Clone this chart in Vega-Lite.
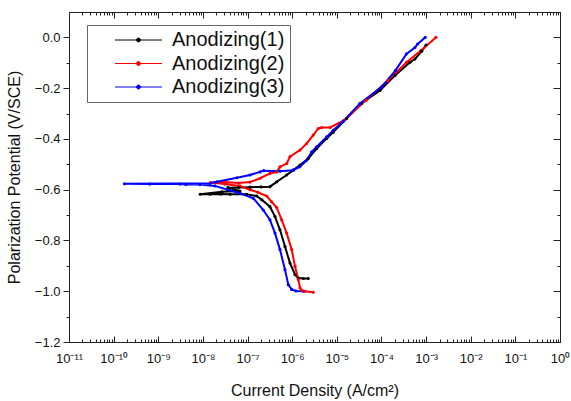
{
  "$schema": "https://vega.github.io/schema/vega-lite/v6.json",
  "width": 491,
  "height": 330,
  "autosize": "none",
  "padding": {"left": 69, "top": 12, "right": 11, "bottom": 59},
  "background": "white",
  "config": {
    "view": {"stroke": "#222", "strokeWidth": 1},
    "font": "Liberation Sans",
    "axis": {"grid": false, "domainColor": "#222", "tickColor": "#222", "labelColor": "#111", "titleColor": "#111", "labelFont": "Liberation Sans", "titleFont": "Liberation Sans", "titleFontWeight": "normal"}
  },
  "data": {
    "values": [
      {"series": "Anodizing(1)", "i": 1, "current": 2.29e-6, "potential": -0.950},
      {"series": "Anodizing(1)", "i": 2, "current": 1.78e-6, "potential": -0.950},
      {"series": "Anodizing(1)", "i": 3, "current": 1.37e-6, "potential": -0.948},
      {"series": "Anodizing(1)", "i": 4, "current": 1.16e-6, "potential": -0.935},
      {"series": "Anodizing(1)", "i": 5, "current": 8.93e-7, "potential": -0.889},
      {"series": "Anodizing(1)", "i": 6, "current": 6.90e-7, "potential": -0.824},
      {"series": "Anodizing(1)", "i": 7, "current": 5.33e-7, "potential": -0.758},
      {"series": "Anodizing(1)", "i": 8, "current": 4.12e-7, "potential": -0.706},
      {"series": "Anodizing(1)", "i": 9, "current": 3.18e-7, "potential": -0.667},
      {"series": "Anodizing(1)", "i": 10, "current": 2.09e-7, "potential": -0.640},
      {"series": "Anodizing(1)", "i": 11, "current": 1.60e-7, "potential": -0.625},
      {"series": "Anodizing(1)", "i": 12, "current": 9.55e-8, "potential": -0.618},
      {"series": "Anodizing(1)", "i": 13, "current": 4.07e-8, "potential": -0.618},
      {"series": "Anodizing(1)", "i": 14, "current": 2.51e-8, "potential": -0.617},
      {"series": "Anodizing(1)", "i": 15, "current": 1.45e-8, "potential": -0.618},
      {"series": "Anodizing(1)", "i": 16, "current": 8.7e-9, "potential": -0.618},
      {"series": "Anodizing(1)", "i": 17, "current": 2.69e-8, "potential": -0.608},
      {"series": "Anodizing(1)", "i": 18, "current": 6.76e-8, "potential": -0.605},
      {"series": "Anodizing(1)", "i": 19, "current": 3.63e-8, "potential": -0.592},
      {"series": "Anodizing(1)", "i": 20, "current": 6.3e-8, "potential": -0.591},
      {"series": "Anodizing(1)", "i": 21, "current": 1.14e-7, "potential": -0.590},
      {"series": "Anodizing(1)", "i": 22, "current": 2.0e-7, "potential": -0.589},
      {"series": "Anodizing(1)", "i": 23, "current": 3.18e-7, "potential": -0.588},
      {"series": "Anodizing(1)", "i": 24, "current": 4.5e-7, "potential": -0.569},
      {"series": "Anodizing(1)", "i": 25, "current": 7.53e-7, "potential": -0.542},
      {"series": "Anodizing(1)", "i": 26, "current": 1.06e-6, "potential": -0.523},
      {"series": "Anodizing(1)", "i": 27, "current": 1.50e-6, "potential": -0.503},
      {"series": "Anodizing(1)", "i": 28, "current": 2.29e-6, "potential": -0.477},
      {"series": "Anodizing(1)", "i": 29, "current": 3.54e-6, "potential": -0.438},
      {"series": "Anodizing(1)", "i": 30, "current": 5.93e-6, "potential": -0.398},
      {"series": "Anodizing(1)", "i": 31, "current": 8.34e-6, "potential": -0.373},
      {"series": "Anodizing(1)", "i": 32, "current": 1.66e-5, "potential": -0.320},
      {"series": "Anodizing(1)", "i": 33, "current": 3.55e-5, "potential": -0.260},
      {"series": "Anodizing(1)", "i": 34, "current": 9.27e-5, "potential": -0.209},
      {"series": "Anodizing(1)", "i": 35, "current": 2.01e-4, "potential": -0.150},
      {"series": "Anodizing(1)", "i": 36, "current": 4.36e-4, "potential": -0.098},
      {"series": "Anodizing(1)", "i": 37, "current": 5.62e-4, "potential": -0.085},
      {"series": "Anodizing(1)", "i": 38, "current": 7.94e-4, "potential": -0.055},
      {"series": "Anodizing(1)", "i": 39, "current": 1.0e-3, "potential": -0.030},

      {"series": "Anodizing(2)", "i": 1, "current": 2.97e-6, "potential": -1.004},
      {"series": "Anodizing(2)", "i": 2, "current": 1.94e-6, "potential": -1.000},
      {"series": "Anodizing(2)", "i": 3, "current": 1.63e-6, "potential": -0.996},
      {"series": "Anodizing(2)", "i": 4, "current": 1.50e-6, "potential": -0.987},
      {"series": "Anodizing(2)", "i": 5, "current": 1.37e-6, "potential": -0.954},
      {"series": "Anodizing(2)", "i": 6, "current": 1.156e-6, "potential": -0.902},
      {"series": "Anodizing(2)", "i": 7, "current": 9.75e-7, "potential": -0.836},
      {"series": "Anodizing(2)", "i": 8, "current": 7.53e-7, "potential": -0.771},
      {"series": "Anodizing(2)", "i": 9, "current": 5.82e-7, "potential": -0.719},
      {"series": "Anodizing(2)", "i": 10, "current": 4.50e-7, "potential": -0.670},
      {"series": "Anodizing(2)", "i": 11, "current": 3.48e-7, "potential": -0.648},
      {"series": "Anodizing(2)", "i": 12, "current": 2.69e-7, "potential": -0.625},
      {"series": "Anodizing(2)", "i": 13, "current": 1.70e-7, "potential": -0.610},
      {"series": "Anodizing(2)", "i": 14, "current": 1.135e-7, "potential": -0.600},
      {"series": "Anodizing(2)", "i": 15, "current": 6.76e-8, "potential": -0.585},
      {"series": "Anodizing(2)", "i": 16, "current": 3.09e-8, "potential": -0.578},
      {"series": "Anodizing(2)", "i": 17, "current": 1.48e-8, "potential": -0.572},
      {"series": "Anodizing(2)", "i": 18, "current": 3.09e-8, "potential": -0.570},
      {"series": "Anodizing(2)", "i": 19, "current": 6.3e-8, "potential": -0.574},
      {"series": "Anodizing(2)", "i": 20, "current": 1.135e-7, "potential": -0.570},
      {"series": "Anodizing(2)", "i": 21, "current": 1.91e-7, "potential": -0.555},
      {"series": "Anodizing(2)", "i": 22, "current": 3.18e-7, "potential": -0.536},
      {"series": "Anodizing(2)", "i": 23, "current": 4.50e-7, "potential": -0.530},
      {"series": "Anodizing(2)", "i": 24, "current": 5.33e-7, "potential": -0.510},
      {"series": "Anodizing(2)", "i": 25, "current": 7.53e-7, "potential": -0.497},
      {"series": "Anodizing(2)", "i": 26, "current": 8.93e-7, "potential": -0.470},
      {"series": "Anodizing(2)", "i": 27, "current": 1.50e-6, "potential": -0.444},
      {"series": "Anodizing(2)", "i": 28, "current": 2.11e-6, "potential": -0.418},
      {"series": "Anodizing(2)", "i": 29, "current": 2.97e-6, "potential": -0.385},
      {"series": "Anodizing(2)", "i": 30, "current": 3.85e-6, "potential": -0.359},
      {"series": "Anodizing(2)", "i": 31, "current": 4.58e-6, "potential": -0.355},
      {"series": "Anodizing(2)", "i": 32, "current": 7.08e-6, "potential": -0.355},
      {"series": "Anodizing(2)", "i": 33, "current": 1.445e-5, "potential": -0.327},
      {"series": "Anodizing(2)", "i": 34, "current": 4.50e-5, "potential": -0.248},
      {"series": "Anodizing(2)", "i": 35, "current": 1.40e-4, "potential": -0.170},
      {"series": "Anodizing(2)", "i": 36, "current": 3.66e-4, "potential": -0.098},
      {"series": "Anodizing(2)", "i": 37, "current": 7.67e-4, "potential": -0.052},
      {"series": "Anodizing(2)", "i": 38, "current": 1.656e-3, "potential": 0.000},

      {"series": "Anodizing(3)", "i": 1, "current": 1.78e-6, "potential": -1.000},
      {"series": "Anodizing(3)", "i": 2, "current": 1.216e-6, "potential": -0.999},
      {"series": "Anodizing(3)", "i": 3, "current": 9.75e-7, "potential": -0.993},
      {"series": "Anodizing(3)", "i": 4, "current": 8.18e-7, "potential": -0.974},
      {"series": "Anodizing(3)", "i": 5, "current": 6.90e-7, "potential": -0.915},
      {"series": "Anodizing(3)", "i": 6, "current": 5.33e-7, "potential": -0.836},
      {"series": "Anodizing(3)", "i": 7, "current": 4.12e-7, "potential": -0.771},
      {"series": "Anodizing(3)", "i": 8, "current": 3.18e-7, "potential": -0.719},
      {"series": "Anodizing(3)", "i": 9, "current": 2.25e-7, "potential": -0.680},
      {"series": "Anodizing(3)", "i": 10, "current": 1.35e-7, "potential": -0.634},
      {"series": "Anodizing(3)", "i": 11, "current": 6.78e-8, "potential": -0.614},
      {"series": "Anodizing(3)", "i": 12, "current": 3.63e-8, "potential": -0.600},
      {"series": "Anodizing(3)", "i": 13, "current": 1.86e-8, "potential": -0.585},
      {"series": "Anodizing(3)", "i": 14, "current": 8.5e-9, "potential": -0.580},
      {"series": "Anodizing(3)", "i": 15, "current": 4.17e-9, "potential": -0.580},
      {"series": "Anodizing(3)", "i": 16, "current": 3.09e-9, "potential": -0.578},
      {"series": "Anodizing(3)", "i": 17, "current": 6.46e-10, "potential": -0.578},
      {"series": "Anodizing(3)", "i": 18, "current": 1.75e-10, "potential": -0.577},
      {"series": "Anodizing(3)", "i": 19, "current": 1.45e-8, "potential": -0.575},
      {"series": "Anodizing(3)", "i": 20, "current": 2.07e-8, "potential": -0.569},
      {"series": "Anodizing(3)", "i": 21, "current": 5.79e-8, "potential": -0.553},
      {"series": "Anodizing(3)", "i": 22, "current": 1.135e-7, "potential": -0.542},
      {"series": "Anodizing(3)", "i": 23, "current": 1.91e-7, "potential": -0.530},
      {"series": "Anodizing(3)", "i": 24, "current": 2.29e-7, "potential": -0.525},
      {"series": "Anodizing(3)", "i": 25, "current": 5.33e-7, "potential": -0.527},
      {"series": "Anodizing(3)", "i": 26, "current": 1.04e-6, "potential": -0.523},
      {"series": "Anodizing(3)", "i": 27, "current": 1.48e-6, "potential": -0.510},
      {"series": "Anodizing(3)", "i": 28, "current": 2.11e-6, "potential": -0.484},
      {"series": "Anodizing(3)", "i": 29, "current": 2.74e-6, "potential": -0.451},
      {"series": "Anodizing(3)", "i": 30, "current": 3.54e-6, "potential": -0.431},
      {"series": "Anodizing(3)", "i": 31, "current": 5.93e-6, "potential": -0.392},
      {"series": "Anodizing(3)", "i": 32, "current": 8.34e-6, "potential": -0.366},
      {"series": "Anodizing(3)", "i": 33, "current": 1.40e-5, "potential": -0.330},
      {"series": "Anodizing(3)", "i": 34, "current": 3.30e-5, "potential": -0.260},
      {"series": "Anodizing(3)", "i": 35, "current": 1.0e-4, "potential": -0.196},
      {"series": "Anodizing(3)", "i": 36, "current": 2.07e-4, "potential": -0.130},
      {"series": "Anodizing(3)", "i": 37, "current": 3.63e-4, "potential": -0.065},
      {"series": "Anodizing(3)", "i": 38, "current": 5.62e-4, "potential": -0.040},
      {"series": "Anodizing(3)", "i": 39, "current": 6.46e-4, "potential": -0.026},
      {"series": "Anodizing(3)", "i": 40, "current": 9.55e-4, "potential": 0.000}
    ]
  },
  "layer": [
    {
      "mark": {"type": "line", "strokeWidth": 2, "point": {"filled": true, "size": 10}},
      "encoding": {
        "x": {
          "field": "current", "type": "quantitative",
          "scale": {"type": "log", "domain": [1e-11, 1], "nice": false},
          "axis": {
            "orient": "bottom",
            "title": "Current Density (A/cm²)",
            "titleFontSize": 16, "titlePadding": 14,
            "values": [1e-11,2e-11,3e-11,4e-11,5e-11,6e-11,7e-11,8e-11,9e-11,1e-10,2e-10,3e-10,4e-10,5e-10,6e-10,7e-10,8e-10,9e-10,1e-9,2e-9,3e-9,4e-9,5e-9,6e-9,7e-9,8e-9,9e-9,1e-8,2e-8,3e-8,4e-8,5e-8,6e-8,7e-8,8e-8,9e-8,1e-7,2e-7,3e-7,4e-7,5e-7,6e-7,7e-7,8e-7,9e-7,1e-6,2e-6,3e-6,4e-6,5e-6,6e-6,7e-6,8e-6,9e-6,1e-5,2e-5,3e-5,4e-5,5e-5,6e-5,7e-5,8e-5,9e-5,1e-4,2e-4,3e-4,4e-4,5e-4,6e-4,7e-4,8e-4,9e-4,1e-3,2e-3,3e-3,4e-3,5e-3,6e-3,7e-3,8e-3,9e-3,1e-2,2e-2,3e-2,4e-2,5e-2,6e-2,7e-2,8e-2,9e-2,0.1,0.2,0.3,0.4,0.5,0.6,0.7,0.8,0.9,1],
            "labelExpr": "abs(log(datum.value)/LN10 - round(log(datum.value)/LN10)) < 0.001 ? '10' + (round(log(datum.value)/LN10) < 0 ? '⁻' : '') + (abs(round(log(datum.value)/LN10)) >= 10 ? '¹' : '') + ['⁰','¹','²','³','⁴','⁵','⁶','⁷','⁸','⁹'][abs(round(log(datum.value)/LN10)) % 10] : ''",
            "labelOverlap": false, "labelFlush": false, "labelFontSize": 13, "labelPadding": 16,
            "tickSize": {"condition": {"test": "abs(log(datum.value)/LN10 - round(log(datum.value)/LN10)) < 0.001", "value": -6}, "value": -3}
          }
        },
        "y": {
          "field": "potential", "type": "quantitative",
          "scale": {"domain": [-1.2, 0.1], "nice": false, "zero": false},
          "axis": {
            "orient": "left",
            "title": "Polarization Potential (V/SCE)",
            "titleFontSize": 16, "titlePadding": 12,
            "values": [-1.2,-1.1,-1.0,-0.9,-0.8,-0.7,-0.6,-0.5,-0.4,-0.3,-0.2,-0.1,0.0],
            "labelExpr": "abs(datum.value*5 - round(datum.value*5)) < 0.01 ? format(datum.value, '.1f') : ''",
            "labelFontSize": 13, "labelPadding": 3,
            "tickSize": {"condition": {"test": "abs(datum.value*5 - round(datum.value*5)) < 0.01", "value": 6}, "value": 3}
          }
        },
        "color": {
          "field": "series", "type": "nominal",
          "scale": {"domain": ["Anodizing(1)", "Anodizing(2)", "Anodizing(3)"], "range": ["#000000", "#ff0000", "#0000ff"]},
          "legend": {
            "orient": "none", "legendX": 18, "legendY": 13, "title": null,
            "symbolType": "M2.6,0H12M6.9,0A0.4,0.4 0 1,1 7.7,0A0.4,0.4 0 1,1 6.9,0",
            "symbolSize": 100, "symbolStrokeWidth": 1,
            "labelFont": "Liberation Sans", "labelFontSize": 20, "labelColor": "#111",
            "labelOffset": 60, "padding": 5, "rowPadding": 3.5,
            "strokeColor": "#666", "fillColor": "white"
          }
        },
        "order": {"field": "i", "type": "quantitative"}
      }
    },
    {
      "mark": {"type": "point", "opacity": 0},
      "encoding": {
        "x": {
          "field": "current", "type": "quantitative",
          "scale": {"type": "log", "domain": [1e-11, 1], "nice": false},
          "axis": {
            "orient": "top", "title": null, "labels": false,
            "values": [1e-11,2e-11,3e-11,4e-11,5e-11,6e-11,7e-11,8e-11,9e-11,1e-10,2e-10,3e-10,4e-10,5e-10,6e-10,7e-10,8e-10,9e-10,1e-9,2e-9,3e-9,4e-9,5e-9,6e-9,7e-9,8e-9,9e-9,1e-8,2e-8,3e-8,4e-8,5e-8,6e-8,7e-8,8e-8,9e-8,1e-7,2e-7,3e-7,4e-7,5e-7,6e-7,7e-7,8e-7,9e-7,1e-6,2e-6,3e-6,4e-6,5e-6,6e-6,7e-6,8e-6,9e-6,1e-5,2e-5,3e-5,4e-5,5e-5,6e-5,7e-5,8e-5,9e-5,1e-4,2e-4,3e-4,4e-4,5e-4,6e-4,7e-4,8e-4,9e-4,1e-3,2e-3,3e-3,4e-3,5e-3,6e-3,7e-3,8e-3,9e-3,1e-2,2e-2,3e-2,4e-2,5e-2,6e-2,7e-2,8e-2,9e-2,0.1,0.2,0.3,0.4,0.5,0.6,0.7,0.8,0.9,1],
            "tickSize": {"condition": {"test": "abs(log(datum.value)/LN10 - round(log(datum.value)/LN10)) < 0.001", "value": -6}, "value": -3}
          }
        },
        "y": {
          "field": "potential", "type": "quantitative",
          "scale": {"domain": [-1.2, 0.1], "nice": false, "zero": false},
          "axis": {
            "orient": "right", "title": null, "labels": false,
            "values": [-1.2,-1.1,-1.0,-0.9,-0.8,-0.7,-0.6,-0.5,-0.4,-0.3,-0.2,-0.1,0.0],
            "tickSize": {"condition": {"test": "abs(datum.value*5 - round(datum.value*5)) < 0.01", "value": -7}, "value": -3}
          }
        }
      }
    }
  ],
  "resolve": {"scale": {"x": "independent", "y": "independent"}}
}
